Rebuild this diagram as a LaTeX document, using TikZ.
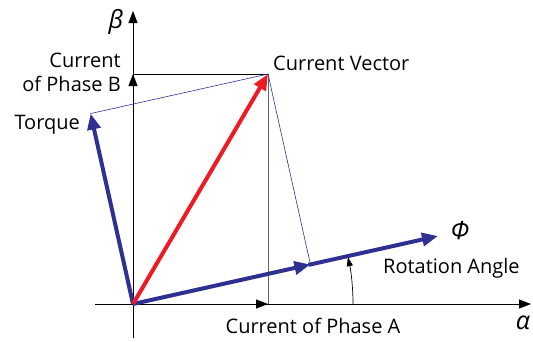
\documentclass[tikz,border=0pt]{standalone}
\usepackage{fontspec}
\setmainfont{Open Sans}
\usetikzlibrary{arrows.meta,calc}
\definecolor{vecblue}{HTML}{2E3192}
\definecolor{vecred}{HTML}{ED1C24}

\begin{document}
\begin{tikzpicture}[x=1pt,y=-1pt,font=\fontsize{20}{24}\selectfont,
  axis/.style={black,line width=0.8pt,-{Triangle[length=12pt,width=9pt]}},
  proj/.style={line width=0.6pt},
  bigvec/.style={line width=4pt,-{Triangle[length=16pt,width=13pt]}},
  thinvec/.style={vecblue,line width=0.6pt},
  greek/.style={font=\fontsize{25}{25}\selectfont\itshape}]
  \useasboundingbox (0,0) rectangle (533,341);
  % points
  \coordinate (O) at (133,304);
  \coordinate (C) at (268,74);
  \coordinate (F) at (438,236);
  \coordinate (P) at ($(O)!(C)!(F)$);
  \coordinate (T) at ($(O)+(C)-(P)$);
  \coordinate (CA) at (C |- O);
  \coordinate (CB) at (O |- C);
  % axes
  \draw[axis] (95,304) -- (531,304);
  \draw[axis] (133,338) -- (133,11);
  % projections
  \draw[proj] (CB) -- (C);
  \draw[proj,black!60] (C) -- (CA);
  \draw[axis] (O) -- (CA);
  \draw[axis] (O) -- (CB);
  % parallelogram
  \draw[thinvec] (T) -- (C) -- (P);
  % vectors
  \draw[bigvec,vecblue] (O) -- (T);
  \draw[bigvec,vecblue] (O) -- (P);
  \draw[bigvec,vecblue,shorten <=-2pt] (P) -- (F);
  \draw[bigvec,vecred] (O) -- (C);
  % rotation angle
  \draw[line width=0.7pt,-{Triangle[length=9pt,width=6pt]}] ($(O)+(220,0)$) arc[start angle=0,end angle=-12.3,radius=220];
  % labels
  \node[greek] (beta) at (116,22) {β};
  \node[greek] (alpha) at (523,323) {α};
  \node[greek] (phi) at (460,231) {Φ};
  \node[anchor=west,inner sep=0pt] (cv) at (273,63) {Current Vector};
  \node[anchor=east,align=right,inner sep=0pt] (cb) at (121,72) {Current\\of Phase B};
  \node[anchor=east,inner sep=0pt] (tq) at (80,125) {Torque};
  \node[anchor=west,inner sep=0pt] (ra) at (383,268) {Rotation Angle};
  \node[inner sep=0pt] (ca) at (313,326) {Current of Phase A};
\end{tikzpicture}
\end{document}
